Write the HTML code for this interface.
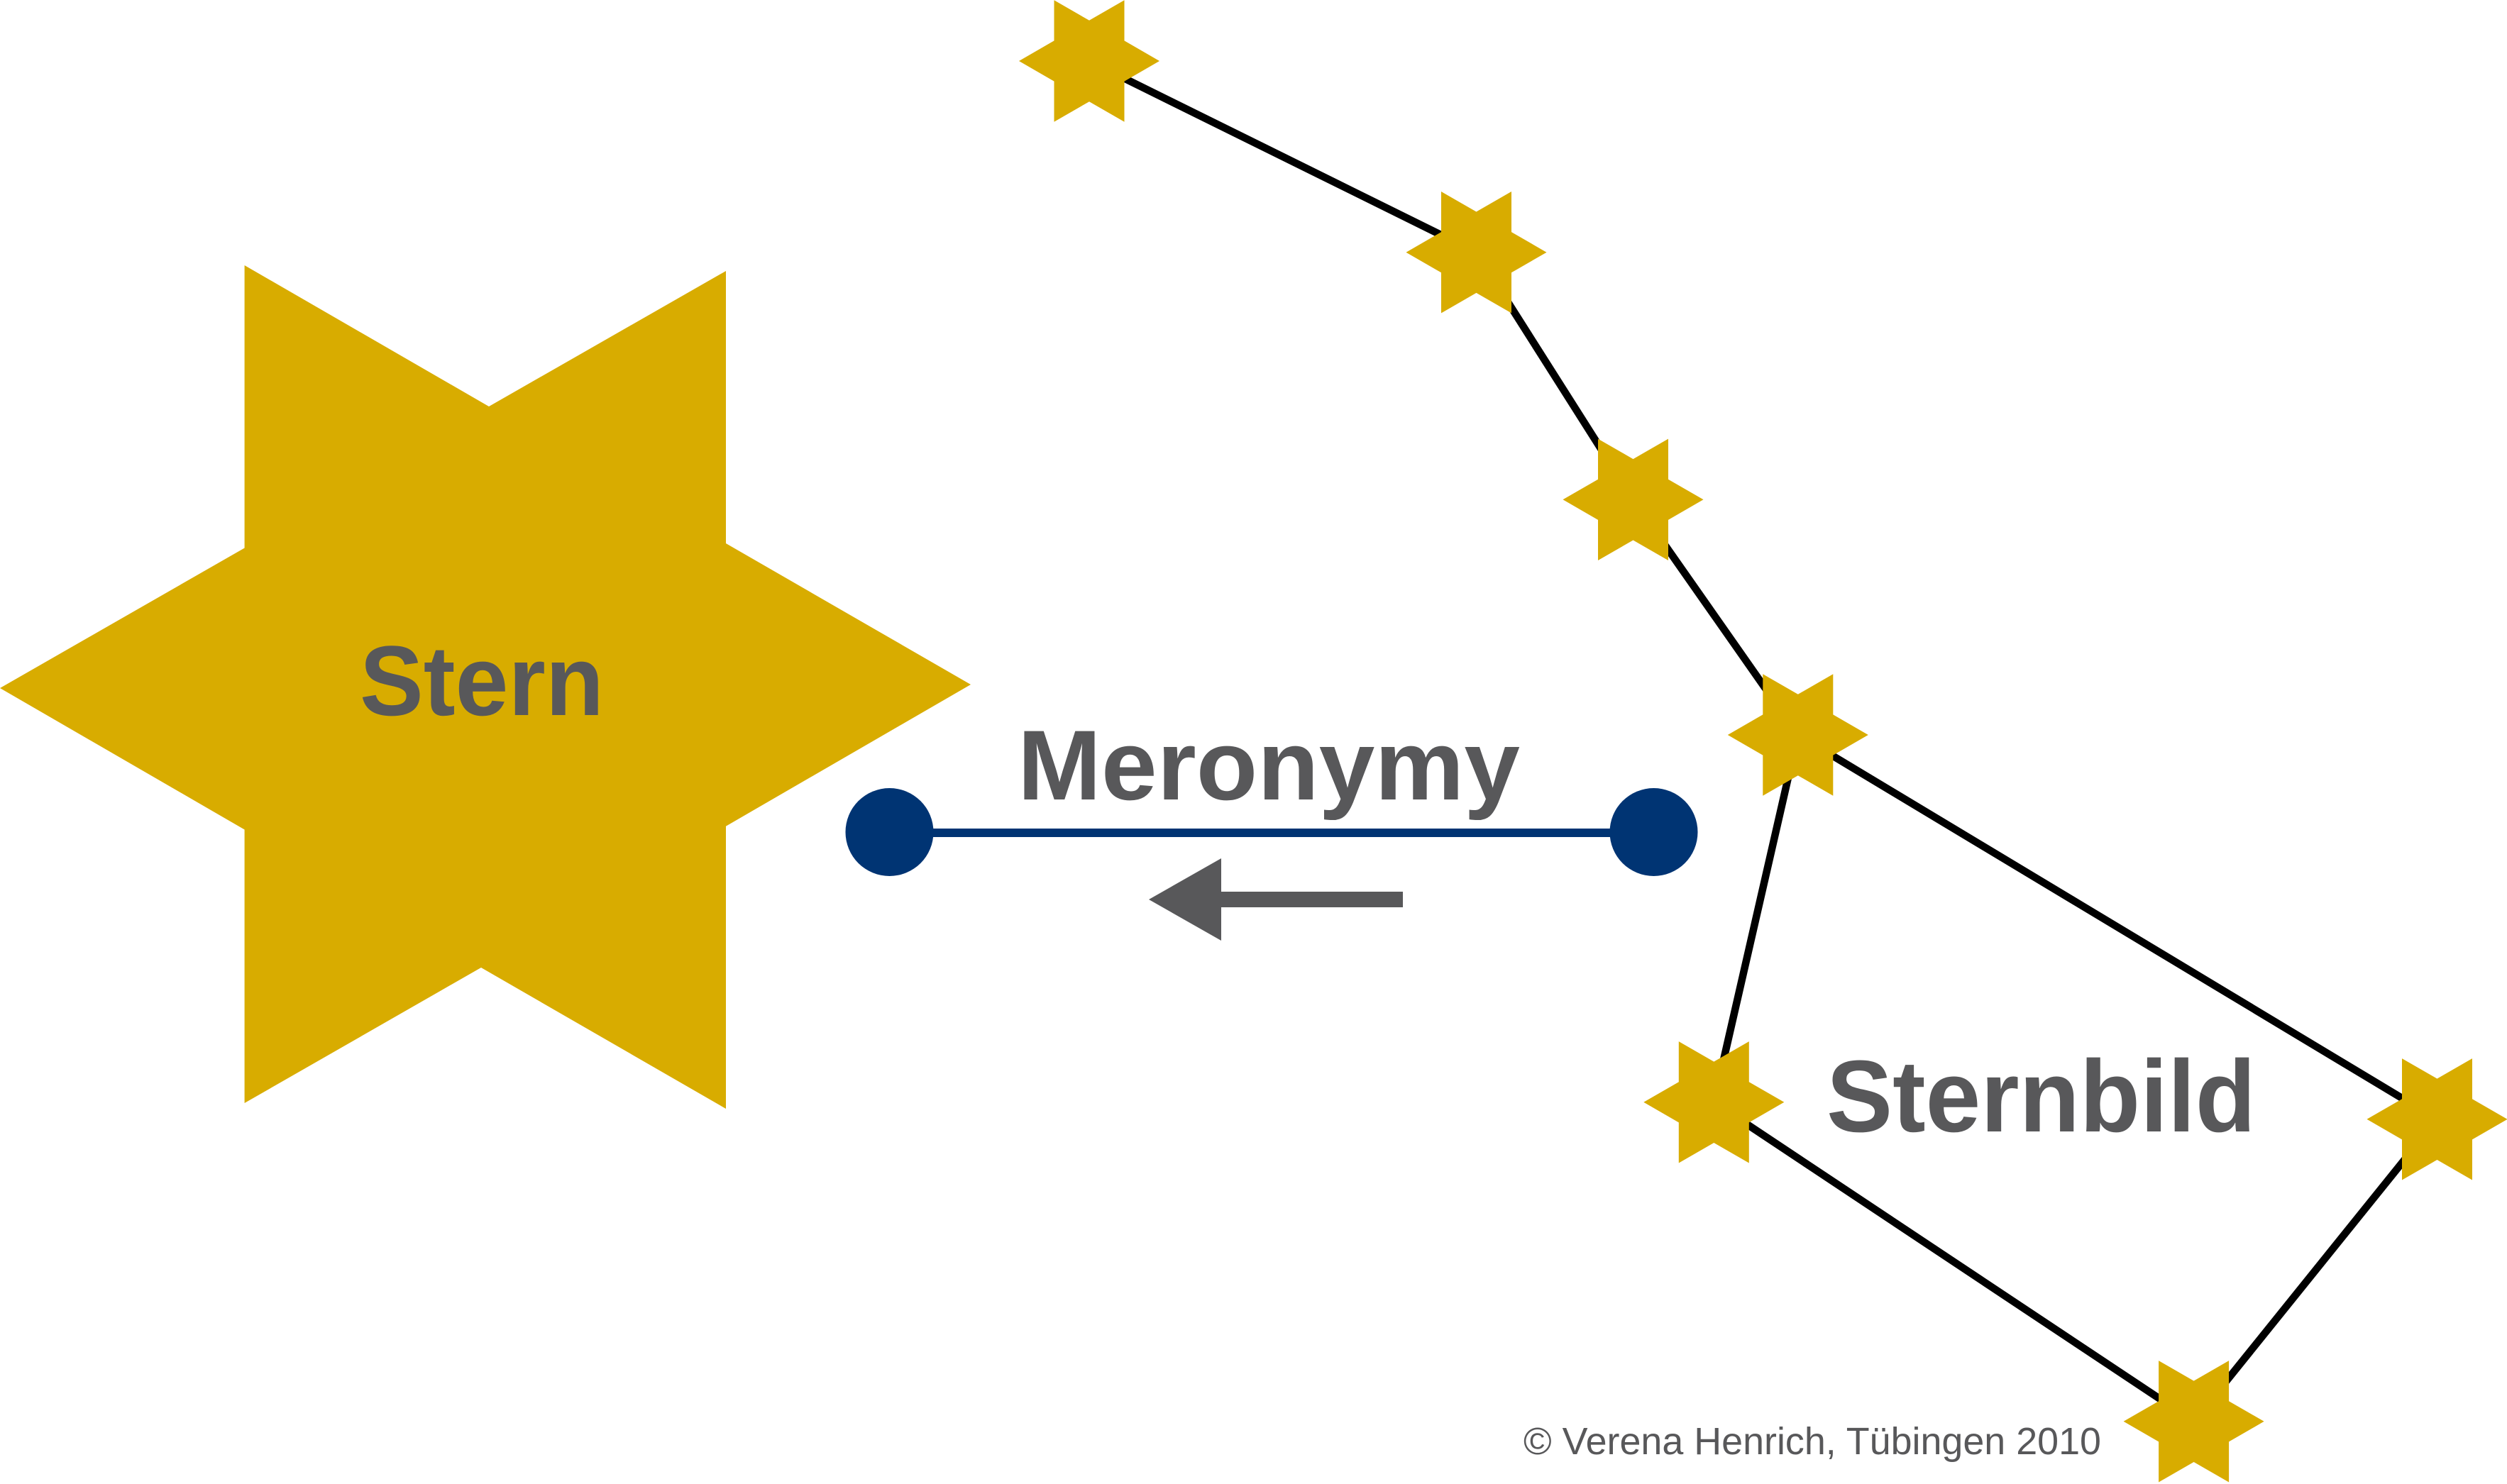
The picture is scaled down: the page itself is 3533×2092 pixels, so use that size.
<!DOCTYPE html>
<html>
<head>
<meta charset="utf-8">
<style>
  html, body { margin: 0; padding: 0; background: #ffffff; }
  body { width: 3533px; height: 2092px; overflow: hidden; }
  svg { display: block; }
  text { font-family: "Liberation Sans", "DejaVu Sans", sans-serif; fill: #58585a; }
</style>
</head>
<body>
<svg width="3533" height="2092" viewBox="0 0 3533 2092" xmlns="http://www.w3.org/2000/svg">
  <defs>
    <polygon id="st" fill="#d8ac00" points="99,0 49.5,-28.6 49.5,-85.7 0,-57.2 -49.5,-85.7 -49.5,-28.6 -99,0 -49.5,28.6 -49.5,85.7 0,57.2 49.5,85.7 49.5,28.6"/>
  </defs>

  <!-- big star -->
  <polygon fill="#d8ac00" points="0,970 344.6,772.5 344.6,374 689,573 1023,382 1023,766 1368,965 1023,1164.7 1023,1563 678,1364 344.6,1555 344.6,1169.5"/>
  <text x="507" y="1008" font-size="140" font-weight="bold" textLength="344" lengthAdjust="spacingAndGlyphs">Stern</text>

  <!-- constellation lines -->
  <g stroke="#000" stroke-width="10.5" fill="none" stroke-linecap="butt">
    <line x1="1535" y1="86" x2="2080.5" y2="355.7"/>
    <line x1="2080.5" y1="355.7" x2="2301.5" y2="704.3"/>
    <line x1="2301.5" y1="704.3" x2="2533.8" y2="1036"/>
    <line x1="2533.8" y1="1036" x2="2415.3" y2="1553.8"/>
    <line x1="2533.8" y1="1036" x2="3434.5" y2="1577.8"/>
    <line x1="2415.3" y1="1553.8" x2="3091.6" y2="2003.8"/>
    <line x1="3091.6" y1="2003.8" x2="3434.5" y2="1577.8"/>
  </g>

  <!-- small stars -->
  <use href="#st" x="1535" y="86"/>
  <use href="#st" x="2080.5" y="355.7"/>
  <use href="#st" x="2301.5" y="704.3"/>
  <use href="#st" x="2533.8" y="1036"/>
  <use href="#st" x="2415.3" y="1553.8"/>
  <use href="#st" x="3434.5" y="1577.8"/>
  <use href="#st" x="3091.6" y="2003.8"/>

  <text x="2574" y="1595" font-size="144" font-weight="bold" textLength="605" lengthAdjust="spacingAndGlyphs">Sternbild</text>

  <!-- meronymy relation -->
  <text x="1434" y="1127" font-size="140" font-weight="bold" textLength="708" lengthAdjust="spacingAndGlyphs">Meronymy</text>
  <line x1="1253.5" y1="1174" x2="2330.5" y2="1174" stroke="#003473" stroke-width="12"/>
  <circle cx="1253.5" cy="1173" r="62" fill="#003473"/>
  <circle cx="2330.5" cy="1173" r="62" fill="#003473"/>
  <polygon fill="#58585a" points="1619,1268 1721,1210 1721,1257 1977,1257 1977,1279 1721,1279 1721,1326"/>

  <!-- copyright -->
  <text x="2147" y="2050" font-size="54" textLength="814" lengthAdjust="spacingAndGlyphs">© Verena Henrich, Tübingen 2010</text>
</svg>
</body>
</html>
